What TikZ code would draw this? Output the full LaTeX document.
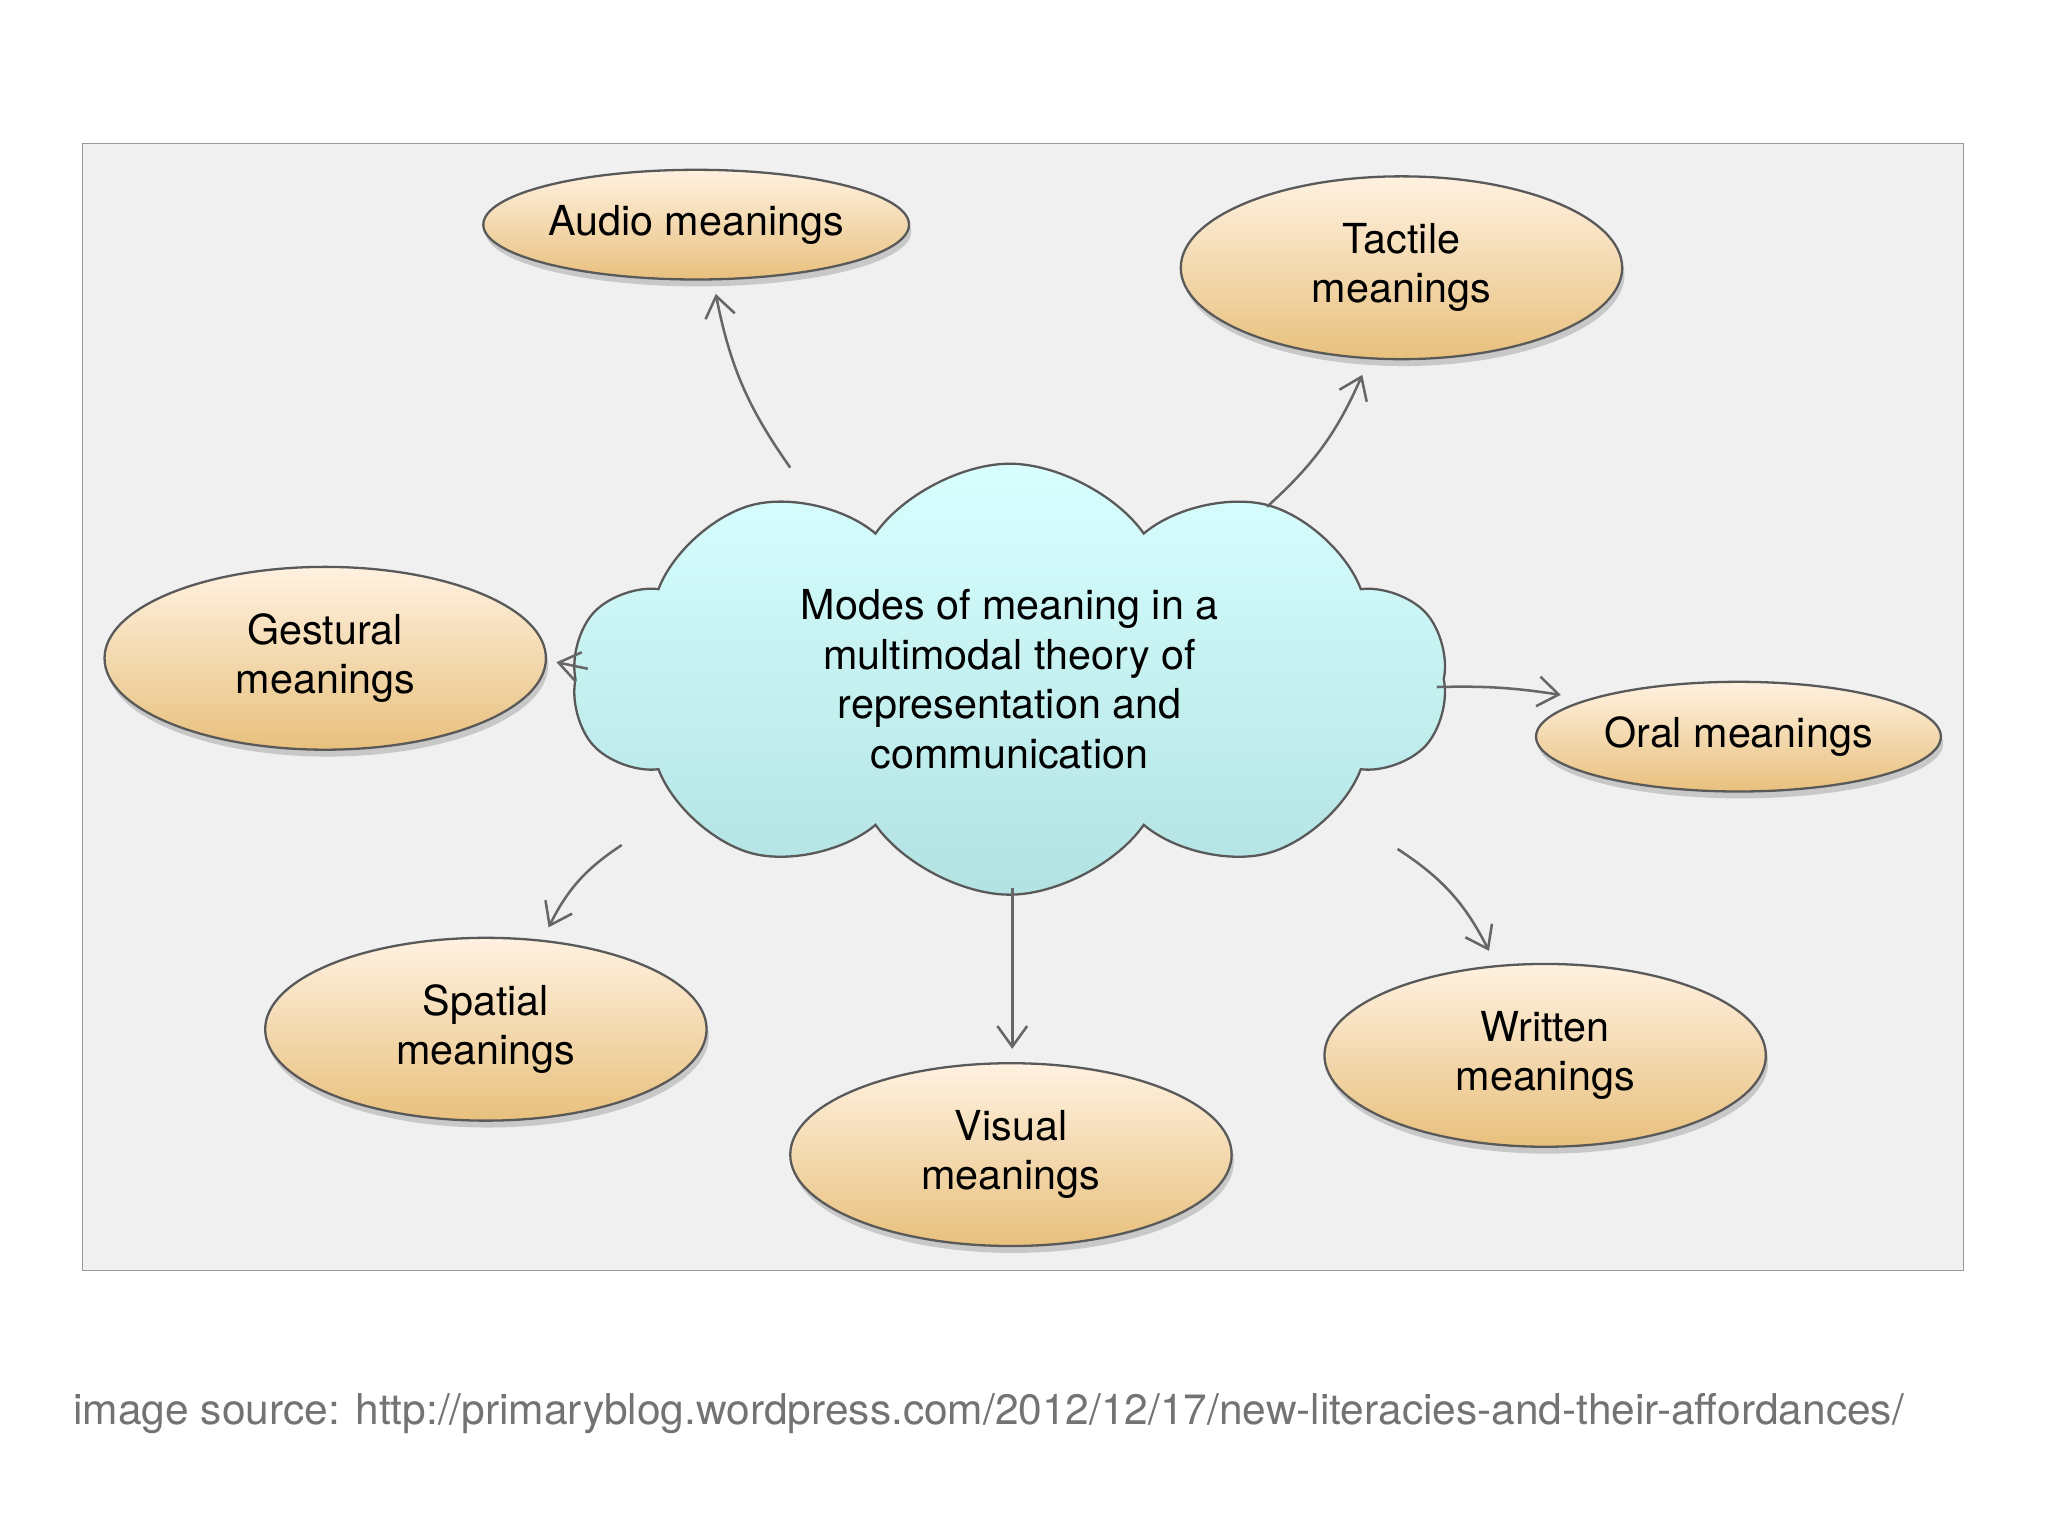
\documentclass[tikz,border=0pt]{standalone}
\usepackage{fontspec}
\setmainfont{TeX Gyre Heros}
\usetikzlibrary{shapes.symbols,shapes.geometric,shadows,arrows.meta}
\begin{document}
\begin{tikzpicture}[x=0.02cm,y=-0.02cm,
  oval/.style={ellipse,draw=gray!70!black,line width=1pt,top color=yellow!10!orange!12!white,bottom color=yellow!45!orange!40!brown!60,
    drop shadow={shadow xshift=1pt,shadow yshift=-3pt,opacity=0.35},align=center,font=\fontsize{18}{21.5}\selectfont,inner sep=0pt},
  conn/.style={draw=gray!80!black,line width=1.1pt,-{Straight Barb[length=9pt,width=13pt]}}]
\useasboundingbox (0,0) rectangle (1568,1176);
\fill[white] (0,0) rectangle (1568,1176);
\filldraw[fill=gray!12,draw=gray!80] (63,110) rectangle (1503,973);
\node[oval,minimum width=6.52cm,minimum height=1.68cm] (audio) at (533,172) {Audio meanings};
\node[oval,minimum width=6.76cm,minimum height=2.8cm] (tactile) at (1073,205) {Tactile\\meanings};
\node[oval,minimum width=6.76cm,minimum height=2.8cm] (gest) at (249,504) {Gestural\\meanings};
\node[oval,minimum width=6.2cm,minimum height=1.68cm] (oral) at (1331,564) {Oral meanings};
\node[oval,minimum width=6.76cm,minimum height=2.8cm] (spat) at (372,788) {Spatial\\meanings};
\node[oval,minimum width=6.76cm,minimum height=2.8cm] (vis) at (774,884) {Visual\\meanings};
\node[oval,minimum width=6.76cm,minimum height=2.8cm] (writ) at (1183,808) {Written\\meanings};
\node[cloud,cloud puffs=10,cloud puff arc=110,aspect=2,draw=gray!70!black,line width=1pt,
  top color=cyan!15!white,bottom color=cyan!25!teal!30,minimum width=13.4cm,minimum height=6.6cm,
  align=center,font=\fontsize{18}{21.5}\selectfont,inner sep=0pt] (cloud) at (773,520)
  {Modes of meaning in a\\multimodal theory of\\representation and\\communication};
\coordinate (a1) at (605,358); \coordinate (a2) at (548,225);
\coordinate (t1) at (970,388); \coordinate (t2) at (1043,287);
\coordinate (g1) at (450,512); \coordinate (g2) at (426,507);
\coordinate (o1) at (1100,526); \coordinate (o2) at (1195,532);
\coordinate (s1) at (476,647); \coordinate (s2) at (420,710);
\coordinate (v1) at (775,680); \coordinate (v2) at (775,803);
\coordinate (w1) at (1070,650); \coordinate (w2) at (1140,728);
\draw[conn] (a1) to[bend left=12] (a2);
\draw[conn] (t1) to[bend right=12] (t2);
\draw[conn] (g1) -- (g2);
\draw[conn] (o1) to[bend left=5] (o2);
\draw[conn] (s1) to[bend right=15] (s2);
\draw[conn] (v1) -- (v2);
\draw[conn] (w1) to[bend left=15] (w2);
\node[anchor=west,text=gray!90!black,font=\fontsize{18.5}{22}\selectfont] (cap) at (50,1082) {image source: http://primaryblog.wordpress.com/2012/12/17/new-literacies-and-their-affordances/};
\end{tikzpicture}
\end{document}
